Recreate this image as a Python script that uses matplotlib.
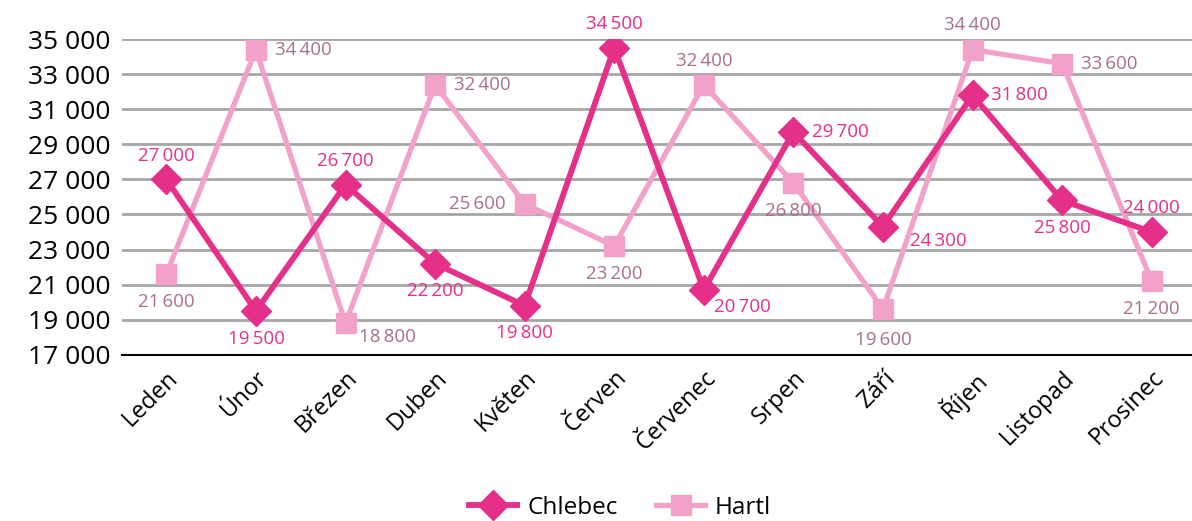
import matplotlib.pyplot as plt
import numpy as np

plt.rcParams['font.family'] = ['Open Sans', 'DejaVu Sans']

mesice = ['Leden', 'Únor', 'Březen', 'Duben', 'Květen', 'Červen',
          'Červenec', 'Srpen', 'Září', 'Říjen', 'Listopad', 'Prosinec']
chlebec = [27000, 19500, 26700, 22200, 19800, 34500, 20700, 29700, 24300, 31800, 25800, 24000]
hartl = [21600, 34400, 18800, 32400, 25600, 23200, 32400, 26800, 19600, 34400, 33600, 21200]

# kam dat popisky (posun v bodech)
pos_ch = [(0, 17), (0, -20), (0, 17), (0, -20), (0, -20), (0, 17),
          (28, -12), (34, 0), (40, -10), (34, 0), (0, -20), (0, 17)]
pos_ha = [(0, -20), (34, 0), (30, -10), (34, 0), (-34, 0), (0, -20),
          (0, 17), (0, -20), (0, -22), (0, 18), (34, 0), (0, -20)]

c_ch = '#E5308A'
c_ha = '#F2A2C8'
c_ha_txt = '#A8708E'

fig = plt.figure(figsize=(11.92, 5.21), dpi=100)
ax = fig.add_axes([0.102, 0.319, 0.898, 0.606])

x = np.arange(len(mesice))
ax.plot(x, hartl, color=c_ha, lw=3.8, marker='s', ms=15, zorder=3, label='Hartl')
ax.plot(x, chlebec, color=c_ch, lw=4.2, marker='D', ms=15, zorder=4, label='Chlebec')

def fmt(v):
    return f'{v:,}'.replace(',', '\u2009')

for i in range(len(mesice)):
    ax.annotate(fmt(chlebec[i]), (x[i], chlebec[i]), xytext=pos_ch[i], textcoords='offset points',
                ha='center', va='center', color=c_ch, fontsize=13.5, zorder=5)
    ax.annotate(fmt(hartl[i]), (x[i], hartl[i]), xytext=pos_ha[i], textcoords='offset points',
                ha='center', va='center', color=c_ha_txt, fontsize=13.5, zorder=5)

ax.set_xlim(-0.5, 11.45)
ax.set_ylim(17000, 35000)
ax.set_yticks(np.arange(17000, 35001, 2000))
ax.set_yticklabels([f'{v:,}'.replace(',', ' ') for v in range(17000, 35001, 2000)], fontsize=19)
ax.set_xticks(x)
ax.set_xticklabels(mesice, rotation=45, ha='right', rotation_mode='anchor', fontsize=17)
ax.tick_params(length=0, pad=8)
ax.grid(axis='y', color='#A6A6A6', lw=2)
ax.set_axisbelow(True)
for s in ['top', 'right', 'left']:
    ax.spines[s].set_visible(False)
ax.spines['bottom'].set_color('black')
ax.spines['bottom'].set_linewidth(1.5)

h, l = ax.get_legend_handles_labels()
fig.legend(h[::-1], l[::-1], loc='center', bbox_to_anchor=(0.52, 0.025), ncol=2, frameon=False,
           fontsize=17.5, handlelength=2.0, handletextpad=0.4, columnspacing=1.6)

plt.savefig('out.png', dpi=100)
